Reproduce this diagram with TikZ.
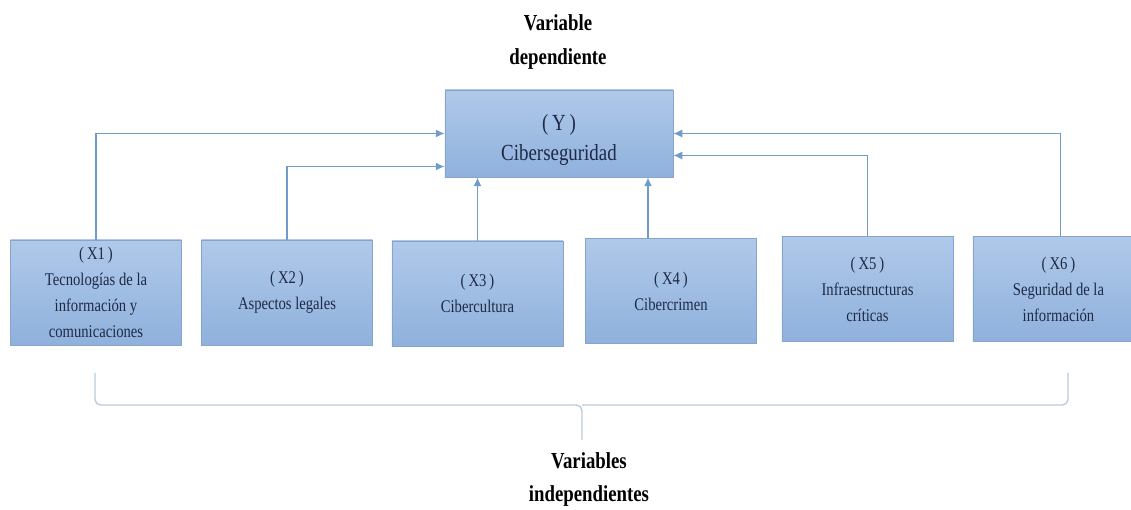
\documentclass[tikz,border=0pt]{standalone}
\usepackage{fontspec}
\setmainfont{Liberation Serif}[FakeStretch=0.82]
\usetikzlibrary{arrows.meta}
\definecolor{boxtop}{HTML}{B0C9EA}
\definecolor{boxbot}{HTML}{8FB1DC}
\definecolor{boxline}{HTML}{86A5CC}
\definecolor{linkcol}{HTML}{6F9CC9}
\definecolor{bracecol}{HTML}{B9CCDC}
\definecolor{txtcol}{HTML}{1E2A45}
\begin{document}
\begin{tikzpicture}[x=0.025cm, y=-0.025cm,
    varbox/.style={draw=boxline, line width=0.6pt, top color=boxtop, bottom color=boxbot,
      minimum width=4.275cm, minimum height=2.625cm, inner sep=2pt, align=center,
      text=txtcol, font=\fontsize{12.7}{18.5}\selectfont},
    link/.style={draw=linkcol, line width=0.8pt, -{Latex[length=2.2mm, width=2mm]}},
    title/.style={align=center, font=\bfseries\fontsize{16.3}{24.5}\selectfont}]
  \useasboundingbox (0,0) rectangle (1131,510);

  \node[title] at (558,42) (dep) {Variable\\dependiente};
  \node[varbox, minimum width=5.7cm, minimum height=2.175cm,
        font=\fontsize{16.4}{21.3}\selectfont] at (559,133.5) (y)
        {\rule{0pt}{20pt}(\,Y\,)\\Ciberseguridad};

  \node[varbox] at (96,292.5)   (x1) {(\,X1\,)\\Tecnologías de la\\información y\\comunicaciones};
  \node[varbox] at (287,292.5)  (x2) {(\,X2\,)\\Aspectos legales};
  \node[varbox] at (477.5,293.5) (x3) {(\,X3\,)\\Cibercultura};
  \node[varbox] at (671,291)    (x4) {(\,X4\,)\\Cibercrimen};
  \node[varbox] at (867.5,289)  (x5) {(\,X5\,)\\Infraestructuras\\críticas};
  \node[varbox] at (1058.5,289) (x6) {(\,X6\,)\\Seguridad de la\\información};

  \draw[link] (x1.north) |- (y.west);
  \draw[link] (x2.north) |- ([yshift=-0.825cm]y.west);
  \draw[link] (x3.north) -- (x3.north |- y.south);
  \draw[link] ([xshift=-0.575cm]x4.north) -- ([xshift=-0.575cm]x4.north |- y.south);
  \draw[link] (x5.north) |- ([yshift=-0.55cm]y.east);
  \draw[link] ([xshift=0.05cm]x6.north) |- (y.east);

  % brace under the boxes
  \coordinate (tip) at (582,440);
  \draw[bracecol, line width=1pt, rounded corners=4pt]
    (95,373) -- (95,405) -- (582,405) -- (tip);
  \draw[bracecol, line width=1pt, rounded corners=4pt]
    (1068,373) -- (1068,405) -- (582,405);

  \node[title, font=\bfseries\fontsize{16.3}{23}\selectfont] at (589,479.5) (indep)
    {Variables\\independientes};
\end{tikzpicture}
\end{document}
